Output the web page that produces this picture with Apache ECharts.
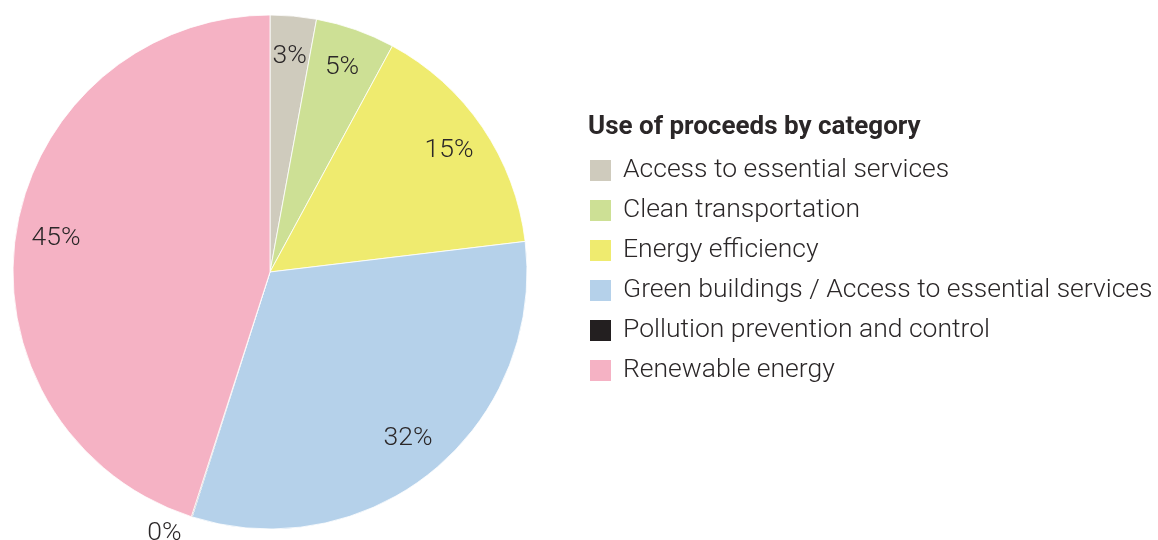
<!DOCTYPE html>
<html>
<head>
<meta charset="utf-8">
<script src="https://cdn.jsdelivr.net/npm/echarts@6/dist/echarts.min.js"></script>
<style>
  html, body { margin: 0; padding: 0; background: #fff; }
  #chart { width: 1158px; height: 540px; }
</style>
</head>
<body>
<div id="chart"></div>
<script>
// data (percent of proceeds)
const categories = [
  'Access to essential services',
  'Clean transportation',
  'Energy efficiency',
  'Green buildings / Access to essential services',
  'Pollution prevention and control',
  'Renewable energy'
]
const shares = [2.9, 5.0, 15.2, 31.8, 0.05, 45.05]
const colors = ['#cfcbbd', '#cde095', '#efeb6f', '#b5d1ea', '#231f20', '#f5b2c4']

const fontFamily = 'Roboto, "Noto Sans", sans-serif'
const textColor = '#2b2728'

const chart = echarts.init(document.getElementById('chart'))

const pieData = categories.map((name, i) => ({
  name: name,
  value: shares[i],
  itemStyle: { color: colors[i] }
}))

// ring used only to place the labels near the rim
const labelData = categories.map((name, i) => {
  const item = { name: name, value: shares[i] }
  if (shares[i] < 1) {
    item.label = { position: 'outside' }
  }
  return item
})

const option = {
  animation: false,
  color: colors,
  title: {
    text: 'Use of proceeds by category',
    left: 588,
    top: 114,
    padding: 0,
    textStyle: {
      fontFamily: fontFamily,
      fontSize: 26,
      fontWeight: 'bold',
      color: textColor
    }
  },
  legend: {
    orient: 'vertical',
    left: 588,
    top: 157,
    padding: 0,
    itemWidth: 23,
    itemHeight: 23,
    itemGap: 13,
    icon: 'rect',
    data: categories,
    textStyle: {
      fontFamily: fontFamily,
      fontSize: 26.5,
      fontWeight: 300,
      color: textColor,
      padding: [0, 0, 0, 6]
    }
  },
  series: [
    {
      name: 'Use of proceeds',
      type: 'pie',
      center: [270, 272],
      radius: 257,
      startAngle: 90,
      clockwise: true,
      label: { show: false },
      labelLine: { show: false },
      itemStyle: { borderColor: '#fff', borderWidth: 0.8 },
      data: pieData
    },
    {
      name: 'labels',
      type: 'pie',
      center: [270, 272],
      radius: [170, 257],
      startAngle: 90,
      clockwise: true,
      silent: true,
      legendHoverLink: false,
      itemStyle: { color: 'rgba(0,0,0,0)' },
      label: {
        show: true,
        position: 'inside',
        fontFamily: fontFamily,
        fontSize: 26.5,
        fontWeight: 300,
        color: textColor,
        formatter: p => Math.round(p.value) + '%'
      },
      labelLine: { show: false, length: 17, length2: 0 },
      data: labelData
    }
  ]
}

chart.setOption(option)
</script>
</body>
</html>
